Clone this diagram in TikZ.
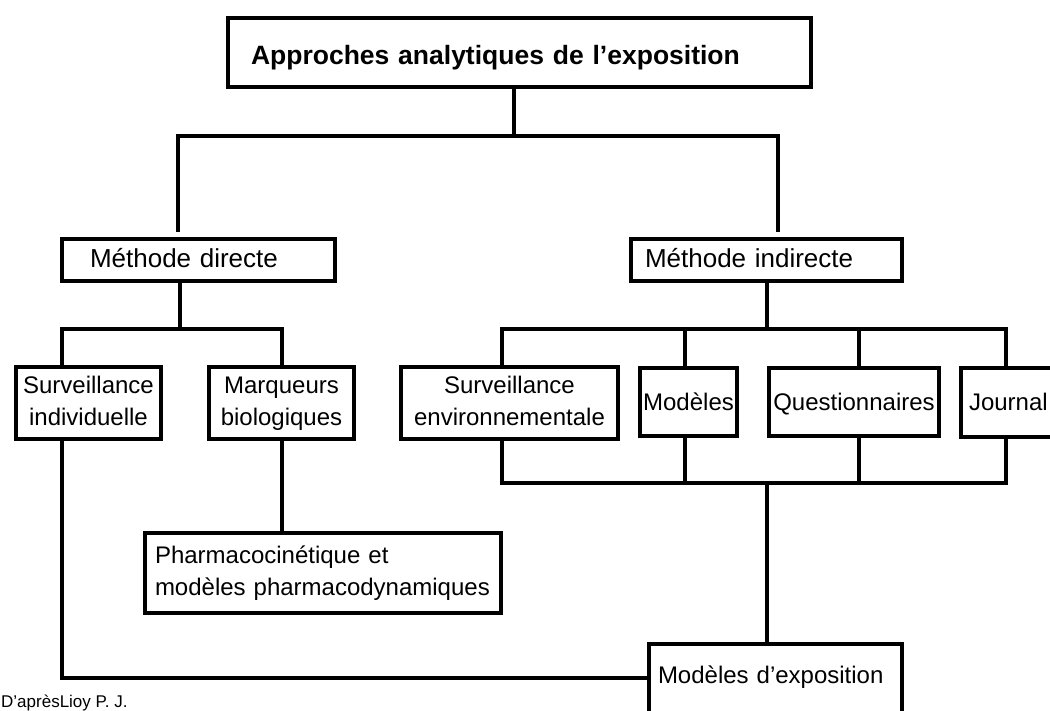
\documentclass[tikz,border=0pt]{standalone}
\usepackage{fontspec}
\setmainfont{Liberation Sans}
\begin{document}
\begin{tikzpicture}[x=1pt,y=-1pt,
  box/.style={draw, line width=4pt, inner sep=0pt, font=\fontsize{24}{32}\selectfont},
  wire/.style={line width=4pt, line join=miter},
]
\useasboundingbox (0,0) rectangle (1050,711);
\clip (0,0) rectangle (1050,711);

% boxes
\node[box, minimum width=583pt, minimum height=69pt, text width=537pt, align=left,
  text height=25pt, text depth=0pt, font=\fontsize{26.5}{32}\selectfont\bfseries]
  (top) at (519.5,52.5) {Approches analytiques de l’exposition};
\node[box, minimum width=273pt, minimum height=42pt, text width=217pt, align=left,
  text height=16pt, text depth=0pt, font=\fontsize{26}{32}\selectfont]
  (md) at (198.5,260) {Méthode directe};
\node[box, minimum width=271pt, minimum height=42pt, text width=243pt, align=left,
  text height=16pt, text depth=0pt, font=\fontsize{26}{32}\selectfont]
  (mi) at (766.5,260) {Méthode indirecte};
\node[box, minimum width=145pt, minimum height=72pt, align=center,
  text height=44pt, text depth=0pt] (si) at (88.5,403) {Surveillance\\individuelle};
\node[box, minimum width=145pt, minimum height=72pt, align=center,
  text height=44pt, text depth=0pt] (mb) at (281.5,403) {Marqueurs\\biologiques};
\node[box, minimum width=217pt, minimum height=72pt, align=center,
  text height=44pt, text depth=0pt] (se) at (509.5,403) {Surveillance\\environnementale};
\node[box, minimum width=97pt, minimum height=68pt, align=center,
  text height=16pt, text depth=0pt] (mo) at (688.5,402) {Modèles};
\node[box, minimum width=170pt, minimum height=68pt, align=center,
  text height=16pt, text depth=0pt] (qu) at (854,402) {Questionnaires};
\node[box, minimum width=97pt, minimum height=69pt, text width=81pt, align=left,
  text height=16pt, text depth=0pt] (jo) at (1009.5,402.5) {Journal};
\node[box, minimum width=356pt, minimum height=80pt, text width=336pt, align=left,
  text height=0pt, text depth=20pt] (ph) at (323,573)
  {Pharmacocinétique et\\modèles pharmacodynamiques};
\node[box, minimum width=253pt, minimum height=116pt, text width=235pt, align=left,
  text height=0pt, text depth=38pt] (me) at (775.5,702) {Modèles d’exposition};
\node[anchor=base west, inner sep=0pt, font=\fontsize{17}{20}\selectfont]
  (src) at (1,707) {D’aprèsLioy P. J.};

% junction points
\coordinate (a0) at (514,136);
\coordinate (a1) at (178,232);
\coordinate (a2) at (778,232);
\coordinate (b0) at (180,329);
\coordinate (b1) at (62,329);
\coordinate (b2) at (282,329);
\coordinate (c1) at (62,678);
\coordinate (d0) at (767,329);
\coordinate (d1) at (502,329);
\coordinate (d2) at (685,329);
\coordinate (d3) at (859,329);
\coordinate (d4) at (1006,329);
\coordinate (e0) at (767,483);
\coordinate (e1) at (502,483);
\coordinate (e2) at (685,483);
\coordinate (e3) at (859,483);
\coordinate (e4) at (1006,483);

% connectors
\draw[wire] (top.south -| a0) -- (a0);
\draw[wire] (a1) |- (a0) -| (a2);
\draw[wire] (md.south -| b0) -- (b0);
\draw[wire] (si.north -| b1) -- (b1) -- (b2) -- (mb.north -| b2);
\draw[wire] (si.south -| c1) -- (c1) -- (me.west |- c1);
\draw[wire] (mb.south -| b2) -- (ph.north -| b2);
\draw[wire] (mi.south -| d0) -- (d0);
\draw[wire] (se.north -| d1) -- (d1) -- (d4) -- (jo.north -| d4);
\draw[wire] (d2) -- (mo.north -| d2);
\draw[wire] (d3) -- (qu.north -| d3);
\draw[wire] (se.south -| e1) -- (e1) -- (e4) -- (jo.south -| e4);
\draw[wire] (mo.south -| e2) -- (e2);
\draw[wire] (qu.south -| e3) -- (e3);
\draw[wire] (e0) -- (me.north -| e0);
\end{tikzpicture}
\end{document}
